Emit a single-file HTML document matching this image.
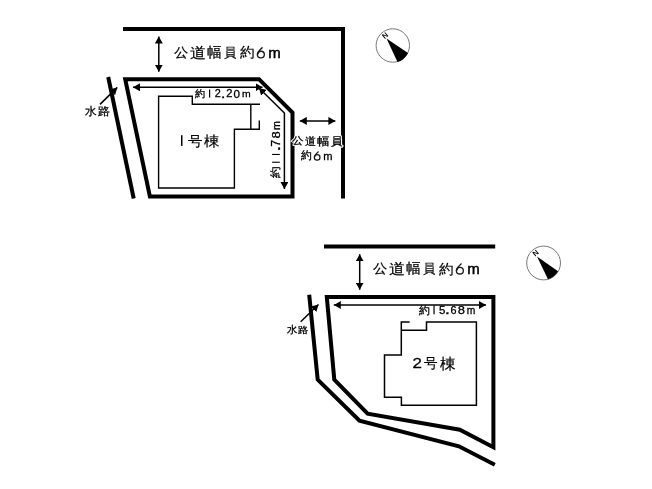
<!DOCTYPE html>
<html><head><meta charset="utf-8">
<style>
html,body{margin:0;padding:0;background:#fff;}
body{width:652px;height:489px;overflow:hidden;}
svg{display:block;will-change:transform;}
text{font-family:"Liberation Sans",sans-serif;font-size:100px;fill:#000;stroke:#000;stroke-width:1.5px;}
text.halo{fill:#fff;stroke:#fff;stroke-width:22px;stroke-linejoin:round;}
</style></head><body>
<svg width="652" height="489" viewBox="0 0 652 489">
<defs>
<marker id="ah" viewBox="0 0 7 8" refX="7" refY="4" markerWidth="7" markerHeight="8" markerUnits="userSpaceOnUse" orient="auto-start-reverse"><path d="M0,0 L7,4 L0,8 z" fill="#000"/></marker>
<marker id="as" viewBox="0 0 6 7" refX="6" refY="3.5" markerWidth="6" markerHeight="7" markerUnits="userSpaceOnUse" orient="auto-start-reverse"><path d="M0,0 L6,3.5 L0,7 z" fill="#000"/></marker>
</defs>
<g fill="none" stroke="#000" stroke-linejoin="miter" stroke-linecap="butt">
<path d="M123,29 H343 V198.6" stroke-width="4"/>
<path d="M108.2,77 L133.7,198.5" stroke-width="4"/>
<path d="M125.2,79.2 H259 L292.5,112.7 V196.5 H149.9 Z" stroke-width="4"/>
<path d="M260,104.2 H192.3 V96.2 H158.6 V188 H234.4 V129.3 H259.3 V120.6 M250.8,104.2 V129.3" stroke-width="1.4"/>
<path d="M324,246.5 H495.2" stroke-width="4"/>
<path d="M309.2,294.7 L317.7,379.7 L359.5,420.8 L458.9,446.3 L494.8,464.7" stroke-width="4"/>
<path d="M326.8,297 H493.4 V447.2 L459.8,429.7 L367.6,413.6 L334.3,379.7 Z" stroke-width="4"/>
<path d="M409.6,322 H401.3 V355 H384.5 V397.2 H401.4 V405.3 H476.4 V322 H426.5 V330.2 H401.3" stroke-width="1.5"/>
</g>
<g stroke="#000" stroke-width="1.5" fill="none">
<path d="M158.8,36.5 V71.7" marker-start="url(#ah)" marker-end="url(#ah)"/>
<path d="M133,87.3 H262.5" marker-start="url(#ah)" marker-end="url(#ah)"/>
<path d="M259,88 L284.4,113 V189" marker-start="url(#ah)" marker-end="url(#ah)"/>
<path d="M299.8,120.9 H335.4" marker-start="url(#ah)" marker-end="url(#ah)"/>
<path d="M100,104.4 L117.3,87.4" marker-end="url(#ah)"/>
<path d="M359.7,254.3 V289.7" marker-start="url(#ah)" marker-end="url(#ah)"/>
<path d="M333.8,305 H486" marker-start="url(#ah)" marker-end="url(#ah)"/>
<path d="M300.7,321.7 L318.5,304.5" marker-end="url(#ah)"/>
</g>
<g>
<circle cx="392.8" cy="45.5" r="16.7" fill="none" stroke="#777" stroke-width="1"/>
<path d="M386.5,38.5 L397.5,62 A17,17 0 0 0 408,53 Z" fill="#000"/>
<text transform="translate(386.7,37.6) rotate(-41)" style="font-size:7.5px;font-weight:bold;fill:#000;stroke:none" text-anchor="middle">N</text>
<circle cx="543.6" cy="263" r="16.9" fill="none" stroke="#777" stroke-width="1"/>
<path d="M537,256.5 L548,279.2 A17,17 0 0 0 558,271.2 Z" fill="#000"/>
<text transform="translate(537.3,255.1) rotate(-41)" style="font-size:7.5px;font-weight:bold;fill:#000;stroke:none" text-anchor="middle">N</text>
</g>

<g>
<text transform="matrix(0.1116 0 0 0.0968 292.24 143.99)" class="halo">公</text>
<text transform="matrix(0.1122 0 0 0.1122 304.91 144.84)" class="halo">道</text>
<text transform="matrix(0.1278 0 0 0.1129 316.74 144.78)" class="halo">幅</text>
<text transform="matrix(0.1129 0 0 0.1074 330.60 144.63)" class="halo">員</text>
<text transform="matrix(0.1400 0 0 0.1266 174.21 56.98)" style="stroke-width:1.50px">公</text>
<text transform="matrix(0.1578 0 0 0.1478 189.58 57.92)" style="stroke-width:1.31px">道</text>
<text transform="matrix(0.1478 0 0 0.1398 206.86 57.23)" style="stroke-width:1.39px">幅</text>
<text transform="matrix(0.1247 0 0 0.1309 224.25 57.26)" style="stroke-width:1.57px">員</text>
<text transform="matrix(0.1446 0 0 0.1387 239.81 57.45)" style="stroke-width:1.41px">約</text>
<ellipse cx="260.85" cy="54.52" rx="3.48" ry="3.30" fill="none" stroke="#1a1a1a" stroke-width="1.35"/><path d="M262.51,47.38 Q258.53,50.48 257.48,54.52" fill="none" stroke="#1a1a1a" stroke-width="1.35"/>
<text transform="matrix(0.1500 0 0 0.1444 268.20 58.25)" style="stroke-width:3.40px">m</text>
<text transform="matrix(0.1400 0 0 0.1266 373.21 273.18)" style="stroke-width:1.50px">公</text>
<text transform="matrix(0.1578 0 0 0.1478 388.58 274.12)" style="stroke-width:1.31px">道</text>
<text transform="matrix(0.1478 0 0 0.1398 405.86 273.43)" style="stroke-width:1.39px">幅</text>
<text transform="matrix(0.1247 0 0 0.1309 423.25 273.46)" style="stroke-width:1.57px">員</text>
<text transform="matrix(0.1446 0 0 0.1387 438.81 273.65)" style="stroke-width:1.41px">約</text>
<ellipse cx="459.85" cy="270.72" rx="3.48" ry="3.30" fill="none" stroke="#1a1a1a" stroke-width="1.35"/><path d="M461.51,263.57 Q457.53,266.68 456.48,270.72" fill="none" stroke="#1a1a1a" stroke-width="1.35"/>
<text transform="matrix(0.1500 0 0 0.1444 467.20 274.45)" style="stroke-width:3.40px">m</text>
<text transform="matrix(0.1000 0 0 0.0989 195.15 97.16)" style="stroke-width:3.02px">約</text>
<rect x="209.00" y="89.50" width="1.20" height="8.10" fill="#000"/>
<text transform="matrix(0.1087 0 0 0.1043 214.71 97.45)" style="stroke-width:2.82px">2</text>
<text transform="matrix(0.1700 0 0 0.1273 220.67 97.60)" style="stroke-width:2.02px">.</text>
<text transform="matrix(0.1109 0 0 0.1071 226.30 97.35)" style="stroke-width:2.75px">2</text>
<text transform="matrix(0.1167 0 0 0.1099 233.58 97.54)" style="stroke-width:2.65px">0</text>
<text transform="matrix(0.1043 0 0 0.0926 242.12 97.35)" style="stroke-width:3.05px">m</text>
<text transform="matrix(0.1076 0 0 0.1086 419.04 313.64)" style="stroke-width:2.78px">約</text>
<rect x="433.45" y="305.50" width="1.20" height="8.80" fill="#000"/>
<text transform="matrix(0.1149 0 0 0.1114 438.89 314.14)" style="stroke-width:2.65px">5</text>
<text transform="matrix(0.1900 0 0 0.1455 444.79 314.40)" style="stroke-width:1.79px">.</text>
<text transform="matrix(0.1087 0 0 0.1169 450.61 314.33)" style="stroke-width:2.66px">6</text>
<text transform="matrix(0.1298 0 0 0.1169 457.83 314.33)" style="stroke-width:2.43px">8</text>
<text transform="matrix(0.1029 0 0 0.1019 466.73 314.15)" style="stroke-width:2.93px">m</text>
<rect x="181.00" y="135.20" width="1.50" height="10.70" fill="#000"/>
<text transform="matrix(0.1415 0 0 0.1374 188.37 145.56)" style="stroke-width:1.43px">号</text>
<text transform="matrix(0.1600 0 0 0.1447 203.89 145.61)" style="stroke-width:1.31px">棟</text>
<text transform="matrix(0.1696 0 0 0.1471 412.40 368.35)" style="stroke-width:1.89px">2</text>
<text transform="matrix(0.1394 0 0 0.1440 424.17 368.48)" style="stroke-width:1.41px">号</text>
<text transform="matrix(0.1558 0 0 0.1489 439.59 368.56)" style="stroke-width:1.31px">棟</text>
<text transform="matrix(0.1117 0 0 0.1053 84.73 115.08)" style="stroke-width:2.77px">水</text>
<text transform="matrix(0.1163 0 0 0.1065 97.90 115.17)" style="stroke-width:2.69px">路</text>
<text transform="matrix(0.1021 0 0 0.0979 286.95 333.48)" style="stroke-width:3.00px">水</text>
<text transform="matrix(0.1065 0 0 0.0935 298.43 333.33)" style="stroke-width:3.00px">路</text>
<text transform="matrix(0.1087 0 0 0.1108 301.14 159.31)" style="stroke-width:2.73px">約</text>
<ellipse cx="317.15" cy="157.39" rx="2.83" ry="2.68" fill="none" stroke="#1a1a1a" stroke-width="1.25"/><path d="M318.53,151.43 Q315.22,153.97 314.43,157.39" fill="none" stroke="#1a1a1a" stroke-width="1.25"/>
<text transform="matrix(0.1114 0 0 0.1130 323.17 160.15)" style="stroke-width:2.67px">m</text>
<text transform="matrix(0.1116 0 0 0.0968 292.24 143.99)" style="stroke-width:2.88px">公</text>
<text transform="matrix(0.1122 0 0 0.1122 304.91 144.84)" style="stroke-width:2.67px">道</text>
<text transform="matrix(0.1278 0 0 0.1129 316.74 144.78)" style="stroke-width:2.49px">幅</text>
<text transform="matrix(0.1129 0 0 0.1074 330.60 144.63)" style="stroke-width:2.72px">員</text>
<text transform="matrix(0 -0.1071 0.1019 0 280.05 130.10)" style="stroke-width:2.87px">m</text>
<text transform="matrix(0 -0.1298 0.1155 0 279.93 138.57)" style="stroke-width:2.45px">8</text>
<text transform="matrix(0 -0.1261 0.1206 0 280.17 146.68)" style="stroke-width:2.43px">7</text>
<text transform="matrix(0 -0.2000 0.1636 0 280.30 151.50)" style="stroke-width:1.65px">.</text>
<rect x="272.10" y="153.90" width="7.70" height="1.10" fill="#000"/>
<rect x="272.10" y="161.70" width="7.70" height="1.10" fill="#000"/>
<text transform="matrix(0 -0.1109 0.1054 0 279.48 177.56)" style="stroke-width:2.77px">約</text>
</g>
</svg>
</body></html>
